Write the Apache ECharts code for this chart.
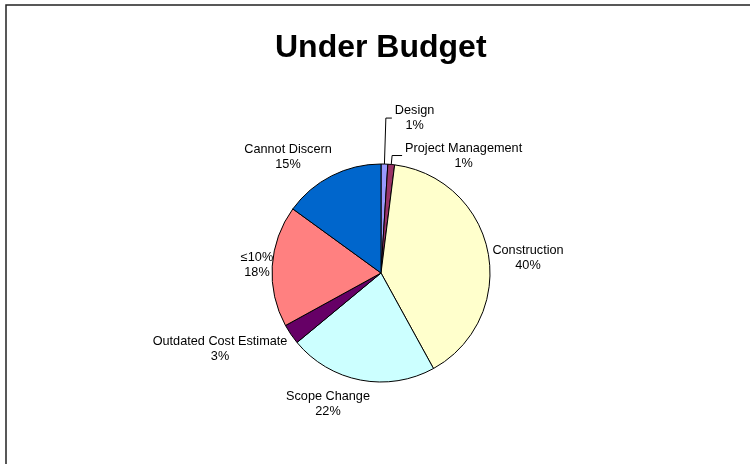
<!DOCTYPE html>
<html>
<head>
<meta charset="utf-8">
<title>Under Budget</title>
<script src="https://cdn.jsdelivr.net/npm/echarts@6/dist/echarts.min.js"></script>
<style>
  html, body { margin: 0; padding: 0; background: #ffffff; }
  #chart { width: 750px; height: 464px; }
</style>
</head>
<body>
<div id="chart"></div>
<script>
// Reasons behind projects finishing under budget (share of projects, %)
const categories = ['Design', 'Project Management', 'Construction', 'Scope Change',
                    'Outdated Cost Estimate', '≤10%', 'Cannot Discern'];
const shares = [1, 1, 40, 22, 3, 18, 15];

// Slice fills, in category order
const sliceColors = ['#9999FF', '#993366', '#FFFFCC', '#CCFFFF', '#660066', '#FF8080', '#0066CC'];

// Small slices get a leader line; the rest have free-standing labels
const leaderLines = [
  { length: 46, length2: 6 },
  { length: 9, length2: 10 },
  null, null, null, null, null
];
// Centres of the free-standing label blocks
const labelSpots = [null, null, [528, 258], [328, 404], [220, 349], [257, 265], [288, 157]];

const LABEL_FONT = '"Liberation Sans", Arial, sans-serif';

const pieData = categories.map(function (name, i) {
  const line = leaderLines[i];
  return {
    name: name,
    value: shares[i],
    itemStyle: { color: sliceColors[i] },
    labelLine: line ? { show: true, length: line.length, length2: line.length2 } : { show: false }
  };
});

const chart = echarts.init(document.getElementById('chart'), null, { renderer: 'canvas' });

chart.setOption({
  backgroundColor: '#ffffff',
  animation: false,
  title: {
    text: 'Under Budget',
    left: 275,
    top: 32,
    padding: 0,
    textStyle: {
      fontFamily: LABEL_FONT,
      fontSize: 32,
      fontWeight: 'bold',
      color: '#000000'
    }
  },
  graphic: [{
    type: 'rect',
    silent: true,
    shape: { x: 6, y: 5, width: 800, height: 520 },
    style: { fill: null, stroke: '#222222', lineWidth: 1.5 }
  }],
  series: [{
    type: 'pie',
    center: [381, 273],
    radius: 109,
    startAngle: 90,
    clockwise: true,
    avoidLabelOverlap: false,
    minShowLabelAngle: 0,
    data: pieData,
    itemStyle: { borderColor: '#000000', borderWidth: 1 },
    emphasis: { disabled: true },
    label: {
      show: true,
      position: 'outside',
      distanceToLabelLine: 3,
      fontFamily: LABEL_FONT,
      fontSize: 12.7,
      lineHeight: 15,
      color: '#000000',
      formatter: function (p) { return p.name + '\n' + p.value + '%'; }
    },
    labelLine: {
      lineStyle: { color: '#000000', width: 1 },
      minTurnAngle: 0,
      maxSurfaceAngle: 180
    },
    labelLayout: function (p) {
      const spot = labelSpots[p.dataIndex];
      if (spot) {
        return { x: spot[0], y: spot[1], align: 'center', verticalAlign: 'middle' };
      }
      const r = p.labelRect;
      return {
        x: r.x + r.width / 2,
        y: r.y + r.height / 2,
        align: 'center',
        verticalAlign: 'middle',
        labelLinePoints: p.labelLinePoints
      };
    }
  }]
});
</script>
</body>
</html>
